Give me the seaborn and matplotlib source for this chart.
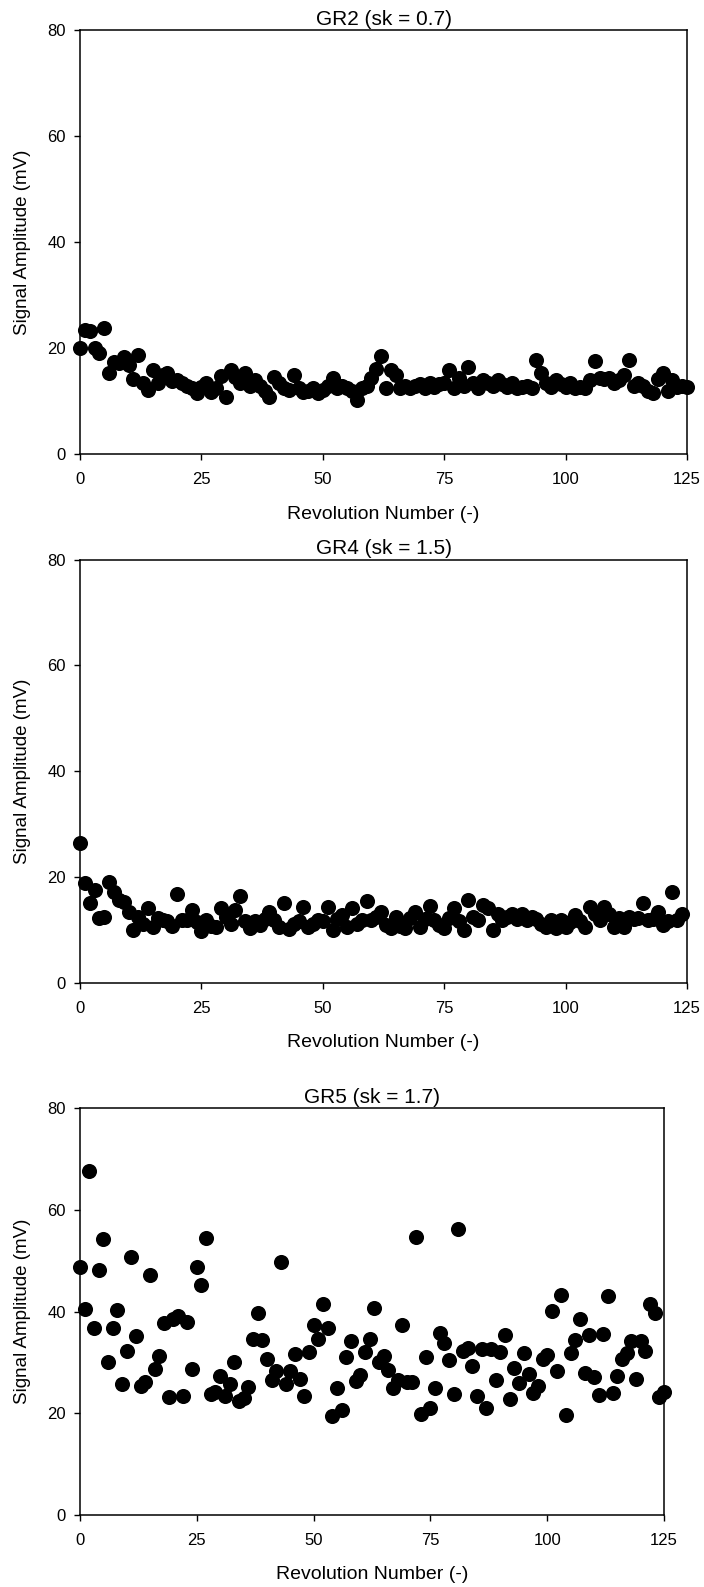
import numpy as np
import pandas as pd
import matplotlib
matplotlib.use("Agg")
import matplotlib.pyplot as plt
import seaborn as sns

# --- Datos (mV por revolucion) ---
gr2_amp = [
    20.0, 23.5, 23.3, 20.0, 19.1, 23.9, 15.3, 17.5, 17.2, 18.3,
    16.9, 14.2, 18.8, 13.4, 12.2, 15.9, 13.4, 15.0, 15.3, 13.9,
    14.0, 13.5, 13.0, 12.5, 11.5, 12.8, 13.5, 11.8, 12.5, 14.7,
    10.9, 16.0, 14.6, 13.5, 15.3, 13.0, 14.0, 13.0, 12.0, 10.9,
    14.6, 13.5, 12.5, 12.2, 15.0, 12.5, 11.8, 12.0, 12.5, 11.5,
    12.2, 13.0, 14.5, 12.5, 13.0, 12.5, 12.0, 10.2, 12.5, 13.0,
    14.5, 16.2, 18.6, 12.5, 15.9, 15.0, 12.5, 13.0, 12.5, 13.0,
    13.2, 12.5, 13.5, 12.8, 13.2, 13.5, 15.9, 12.5, 14.5, 13.0,
    16.4, 13.5, 12.5, 14.0, 13.5, 13.0, 14.0, 13.2, 12.8, 13.5,
    12.5, 12.8, 13.0, 12.5, 17.9, 15.3, 13.5, 12.8, 14.0, 13.2,
    12.8, 13.5, 12.5, 12.8, 12.5, 14.0, 17.7, 14.5, 14.2, 14.5,
    13.5, 14.0, 15.0, 17.9, 13.0, 13.5, 13.0, 12.0, 11.5, 14.2,
    15.3, 12.0, 14.0, 12.8, 13.0, 12.8,
]

gr4_amp = [
    26.4, 18.8, 15.0, 17.5, 12.2, 12.4, 19.1, 17.2, 15.7, 15.3,
    13.4, 10.0, 12.5, 11.2, 14.1, 10.6, 12.2, 11.8, 11.6, 10.8,
    16.8, 11.9, 11.9, 13.8, 11.5, 9.7, 11.9, 10.7, 10.5, 14.1,
    12.5, 11.2, 13.8, 16.4, 11.6, 10.3, 11.6, 11.0, 12.0, 13.4,
    11.9, 10.6, 15.1, 10.2, 11.2, 11.6, 14.3, 10.6, 11.2, 11.9,
    11.6, 14.3, 10.0, 12.0, 12.8, 10.6, 14.1, 11.2, 11.9, 15.5,
    11.9, 12.5, 13.3, 11.0, 10.3, 12.5, 10.8, 10.3, 12.2, 13.3,
    10.6, 12.0, 14.5, 11.9, 11.0, 10.3, 12.2, 14.1, 11.6, 10.0,
    15.7, 12.5, 11.9, 14.7, 14.1, 10.0, 13.1, 11.9, 12.5, 13.1,
    12.0, 13.1, 11.9, 12.5, 12.0, 11.2, 10.6, 11.9, 10.3, 11.9,
    10.6, 11.5, 12.8, 11.6, 10.6, 14.4, 13.1, 11.9, 14.3, 13.1,
    10.6, 12.2, 10.6, 12.5, 12.0, 12.2, 15.0, 11.9, 12.0, 13.4,
    10.9, 11.6, 17.2, 11.8, 13.1,
]

gr5_amp = [
    48.7, 40.6, 67.6, 36.7, 48.2, 54.3, 30.1, 36.8, 40.3, 25.7,
    32.2, 50.7, 35.2, 25.3, 26.1, 47.2, 28.7, 31.2, 37.8, 23.2,
    38.5, 39.1, 23.5, 37.9, 28.8, 48.8, 45.2, 54.5, 23.9, 24.2,
    27.3, 23.4, 25.8, 30.1, 22.4, 23.0, 25.2, 34.7, 39.8, 34.4,
    30.7, 26.5, 28.3, 49.8, 25.8, 28.3, 31.6, 26.8, 23.5, 32.0,
    37.4, 34.7, 41.6, 36.8, 19.5, 25.0, 20.7, 31.1, 34.2, 26.3,
    27.6, 32.0, 34.7, 40.7, 30.1, 31.2, 28.6, 25.0, 26.6, 37.4,
    26.1, 26.1, 54.6, 19.9, 31.1, 21.1, 25.0, 35.9, 33.9, 30.4,
    23.8, 56.2, 32.2, 32.8, 29.4, 23.5, 32.6, 21.1, 32.6, 26.6,
    32.1, 35.5, 22.8, 29.0, 26.0, 31.9, 27.8, 24.1, 25.3, 30.6,
    31.4, 40.1, 28.3, 43.3, 19.7, 31.9, 34.4, 38.6, 28.0, 35.5,
    27.1, 23.7, 35.7, 43.1, 24.0, 27.3, 30.6, 31.9, 34.2, 26.8,
    34.2, 32.2, 41.6, 39.8, 23.2, 24.2,
]

titles = ["GR2 (sk = 0.7)", "GR4 (sk = 1.5)", "GR5 (sk = 1.7)"]
x_ticks = [0, 25, 50, 75, 100, 125]
y_ticks = [0, 20, 40, 60, 80]

W, H = 704, 1587
# cajas de los ejes en pixeles: (izq, der, arriba, abajo)
BOXES = [(80, 687, 30.4, 454.4), (80, 687, 559.7, 982.8), (80, 664, 1108.2, 1515.1)]


def make_df(values):
    return pd.DataFrame({"rev": np.arange(len(values)), "amp": values})


def plot_panel(fig, box, df, title):
    l, r, t, b = box
    ax = fig.add_axes([l / W, 1 - b / H, (r - l) / W, (b - t) / H])
    sns.scatterplot(data=df, x="rev", y="amp", ax=ax, color="black",
                    edgecolor="black", s=118, linewidth=0, clip_on=False, zorder=3)
    ax.set_xlim(0, 125)
    ax.set_ylim(0, 80)
    ax.set_xticks(x_ticks)
    ax.set_yticks(y_ticks)
    ax.tick_params(axis="both", direction="out", length=4, width=1.0,
                   labelsize=12, color="black", labelcolor="black")
    ax.tick_params(axis="x", pad=9)
    ax.tick_params(axis="y", pad=6)
    for sp in ax.spines.values():
        sp.set_visible(True)
        sp.set_linewidth(1.1)
        sp.set_color("black")
    ax.set_title(title, fontsize=15, pad=4, color="black")
    ax.set_xlabel("Revolution Number (-)", fontsize=14, labelpad=13, color="black")
    ax.set_ylabel("Signal Amplitude (mV)", fontsize=13.5, labelpad=12, color="black")
    return ax


def main():
    sns.set_style("ticks")
    plt.rcParams["font.family"] = ["Liberation Sans", "DejaVu Sans"]
    plt.rcParams["text.color"] = "black"
    fig = plt.figure(figsize=(W / 100, H / 100), dpi=100)
    for box, vals, title in zip(BOXES, [gr2_amp, gr4_amp, gr5_amp], titles):
        plot_panel(fig, box, make_df(vals), title)
    fig.savefig("out.png", dpi=100, facecolor="white")
    plt.close(fig)


if __name__ == "__main__":
    main()
